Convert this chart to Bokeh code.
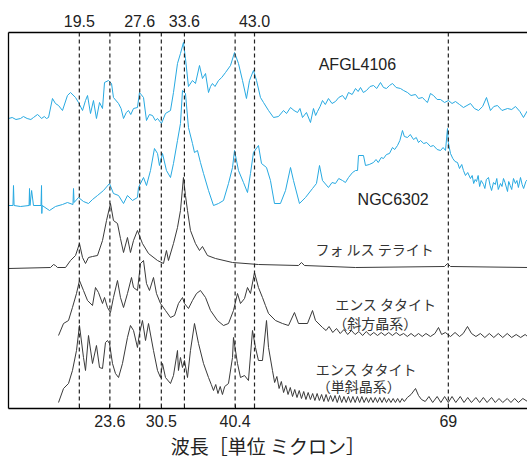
from bokeh.plotting import figure
from bokeh.models import Span, Label, LinearAxis, FixedTicker, Range1d
from bokeh.embed import file_html
from bokeh.resources import INLINE

# ---------------- data (wavelength in micron, relative flux, offset per spectrum) ----------------
afgl_wl = [10.0, 10.5, 11.0, 11.61, 12.0, 12.5, 13.0, 13.35, 13.89, 14.2, 14.43, 14.8, 15.1, 15.37,
           15.9, 16.3, 16.71, 17.24, 17.91, 18.32, 18.99, 19.39,
           19.93, 20.33, 20.6, 21.0, 21.4, 21.8, 22.21, 22.61, 22.88, 23.41, 23.82, 24.08, 24.76, 25.1, 25.43,
           25.8, 26.1, 26.4, 26.77, 27.3, 27.57, 28.11, 28.51, 28.9, 29.32, 29.7, 29.99, 30.52, 31.06, 31.73,
           32.13, 32.67, 33.07, 33.47, 33.74, 34.14, 34.68, 35.08, 35.62, 36.02, 36.43, 36.83, 37.1, 37.36,
           37.7, 38.17, 38.6, 39.11, 39.78, 40.32, 40.85, 41.39, 41.92, 42.33, 42.86, 43.27, 43.8, 44.21,
           44.88, 45.55, 46.22, 46.89, 47.3, 47.83, 48.3, 48.77, 49.1, 49.44, 49.97, 50.51, 50.91, 51.2,
           51.45, 51.8, 52.12, 52.5, 52.92, 53.4, 53.86, 54.3, 54.8, 55.2, 55.61, 56.1, 56.55, 56.9, 57.22,
           57.6, 58.02, 58.5, 58.96, 59.4, 59.9, 60.3, 60.7, 61.1, 61.51, 62.0, 62.58, 63.0, 63.52, 64.0,
           64.6, 65.0, 65.53, 65.9, 66.2, 66.6, 67.01, 67.5, 67.95, 68.5, 69.02, 69.5, 69.96, 70.5, 71.03,
           71.5, 71.97, 72.5, 73.05, 73.6, 74.12, 74.65, 75.1, 75.59, 76.2, 76.94, 77.5, 78.01, 78.6, 79.08,
           79.62]
afgl_flux = [290, 291, 289, 290, 292, 290, 289, 291, 294, 292, 290, 292, 290, 291,
             310, 305, 303, 298, 313, 316, 311, 306,
             298, 308, 313, 295, 308, 290, 306, 300, 326, 328, 325, 311, 305, 300, 290,
             296, 298, 294, 300, 301, 316, 311, 288, 294, 293, 288, 290, 285, 295, 298,
             316, 345, 355, 366, 350, 322, 328, 325, 343, 330, 335, 316, 322, 325,
             322, 328, 331, 336, 343, 356, 345, 328, 310, 328, 338, 328, 311, 306,
             298, 291, 292, 298, 295, 301, 298, 296, 300, 291, 296, 286, 300, 293,
             297, 302, 308, 304, 310, 305, 307, 311, 313, 309, 316, 314, 320, 317, 321,
             316, 318, 322, 323, 320, 326, 321, 320, 323, 325, 321, 320, 318, 316, 313,
             314, 310, 311, 308, 306, 315, 313, 309, 309, 306, 308, 305, 307, 304, 301,
             303, 305, 300, 298, 302, 311, 298, 302, 303, 298, 300, 299, 302, 297, 291,
             298]

ngc_wl = [10.0, 10.6, 10.67, 10.75, 11.61, 12.76, 12.82, 12.88, 13.1, 13.35, 14.36, 14.43, 14.47, 14.52,
          15.5, 16.3, 17.24, 17.91, 18.65, 18.72, 18.8, 19.39, 20.06, 20.73, 21.27, 21.94, 22.74, 23.55,
          24.08, 24.76, 25.43, 25.96, 26.63, 27.3, 27.44, 28.11, 28.51, 29.05, 29.58, 29.99, 30.25, 30.66,
          31.19, 31.73, 32.13, 32.67, 33.07, 33.34, 33.74, 34.14, 34.68, 34.95, 35.35, 35.75, 36.16, 36.83,
          37.5, 38.17, 38.84, 39.51, 40.05, 40.32, 40.85, 41.52, 42.06, 42.46, 42.86, 43.53, 43.94, 44.61,
          45.14, 45.68, 46.48, 47.16, 47.83, 48.23, 49.03, 49.84, 50.78, 51.31, 51.72, 52.12, 52.92, 53.4,
          53.86, 54.3, 54.8, 55.2, 55.61, 56.15, 56.55, 56.82, 56.95, 57.62, 57.89, 58.4, 58.96, 59.3, 59.6,
          60.0, 60.3, 60.7, 61.1, 61.51, 61.8, 62.18, 62.5, 62.85, 63.1, 63.52, 63.9, 64.33, 64.7, 65.0,
          65.27, 65.7, 66.1, 66.61, 67.0, 67.5, 67.95, 68.3, 68.62, 68.89, 69.0, 69.29, 69.6, 69.9, 70.23,
          70.5, 70.8, 71.03, 71.3, 71.6, 71.97, 72.2, 72.4, 72.6, 72.78, 73.0, 73.2, 73.4, 73.72, 73.9, 74.1,
          74.39, 74.6, 74.8, 75.06, 75.3, 75.5, 75.7, 76.0, 76.2, 76.4, 76.6, 76.94, 77.1, 77.3, 77.5, 77.74,
          78.0, 78.2, 78.4, 78.68, 78.9, 79.1, 79.4, 79.62]
ngc_flux = [203, 203, 223, 203, 202, 203, 220, 203, 218, 203, 203, 223, 195, 203,
            198, 202, 204, 206, 204, 220, 206, 211, 207, 205, 209, 213, 218, 225,
            215, 213, 205, 213, 208, 211, 221, 231, 223, 238, 260, 255, 243, 255,
            238, 231, 245, 268, 285, 318, 315, 281, 265, 256, 258, 246, 235, 218,
            203, 205, 208, 225, 241, 258, 238, 226, 216, 235, 256, 263, 245, 241,
            228, 205, 205, 218, 241, 228, 205, 211, 220, 225, 243, 228, 221, 226,
            225, 230, 228, 226, 231, 236, 238, 238, 253, 253, 243, 244, 246, 249, 246,
            251, 250, 254, 255, 261, 259, 263, 268, 278, 272, 271, 274, 269, 271, 266,
            268, 265, 266, 262, 263, 259, 258, 261, 258, 280, 266, 255, 250, 247, 246,
            240, 244, 238, 233, 236, 230, 233, 225, 229, 227, 233, 222, 228, 224, 220, 229,
            231, 223, 218, 226, 224, 230, 219, 225, 222, 230, 226, 217, 227, 223, 219, 230,
            225, 228, 221, 231, 224, 220, 227, 229]

fors_wl = [10.0, 15.63, 16.04, 16.3, 16.57, 17.65, 18.32, 18.99, 19.52, 19.93, 20.33, 20.73, 21.27, 21.94,
           22.61, 23.15, 23.68, 24.08, 24.62, 25.02, 25.43, 25.96, 26.36, 26.77, 27.3, 27.97, 28.78, 29.99,
           30.79, 31.19, 31.46, 32.13, 32.67, 33.07, 33.47, 33.74, 34.01, 34.41, 35.08, 35.62, 36.02, 36.69,
           37.77, 40.05, 43.53, 48.9, 49.3, 49.7, 56.55, 68.49, 68.89, 69.29, 79.62]
fors_flux = [140, 141, 144, 143, 141, 141, 148, 153, 165, 151, 145, 151, 152, 153,
             168, 188, 205, 188, 185, 170, 156, 171, 156, 168, 178, 165, 155, 148,
             145, 158, 148, 165, 181, 198, 231, 213, 198, 178, 165, 158, 162, 153,
             150, 146, 144, 143, 146, 143, 141, 142, 145, 142, 141]

ortho_wl = [16.71, 17.38, 18.05, 18.58, 19.12, 19.52, 20.06, 20.6, 21.27, 21.67, 22.07, 22.61, 22.88, 23.28,
            23.68, 24.08, 24.62, 25.02, 25.43, 25.96, 26.5, 26.77, 27.3, 27.71, 28.11, 28.51, 28.91, 29.45,
            29.85, 30.39, 31.06, 31.73, 32.27, 32.8, 33.34, 33.61, 34.14, 34.68, 35.22, 35.75, 36.43, 37.1,
            38.03, 38.84, 39.51, 40.18, 40.72, 41.12, 41.66, 42.06, 42.46, 43.0, 43.53, 44.07, 44.47, 44.88,
            45.81, 46.75, 47.56, 48.36, 48.9, 50.11, 50.78, 51.18, 52.12, 52.6, 53.0, 53.5, 54.0, 54.5,
            55.0, 55.5, 56.0, 56.5, 57.0, 57.5, 58.0, 58.5, 59.0, 59.5, 60.0, 60.5, 61.0, 61.5,
            62.0, 62.5, 63.0, 63.5, 64.0, 64.5, 65.0, 65.5, 66.0, 66.6, 67.2, 67.68, 68.1, 68.6,
            69.29, 69.9, 70.5, 71.0, 71.57, 72.11, 72.7, 73.3, 73.9, 74.5, 75.1, 75.7, 76.3, 76.9,
            77.5, 78.1, 78.7, 79.3, 79.62]
ortho_flux = [73, 85, 88, 101, 115, 128, 118, 108, 103, 121, 116, 105, 111, 101,
              96, 111, 128, 111, 101, 115, 131, 121, 118, 145, 148, 125, 118, 131,
              115, 105, 98, 91, 93, 105, 111, 105, 100, 108, 115, 118, 111, 98,
              88, 83, 85, 98, 115, 105, 110, 121, 115, 136, 121, 111, 103, 95,
              88, 85, 83, 96, 85, 85, 98, 88, 81, 78, 82, 76, 80, 75,
              79, 74, 78, 74, 77, 73, 77, 73, 76, 73, 76, 73, 76, 73,
              76, 73, 75, 72, 75, 72, 75, 72, 75, 72, 75, 81, 74, 76,
              72, 76, 72, 75, 82, 75, 72, 75, 71, 75, 71, 75, 71, 75,
              71, 74, 71, 74, 72]

mono_wl = [16.71, 17.38, 18.05, 18.58, 19.12, 19.52, 20.06, 20.33, 20.73, 21.27, 21.8, 22.21, 22.61, 23.01,
           23.28, 23.55, 23.95, 24.35, 24.76, 25.29, 25.96, 26.36, 26.77, 27.3, 27.57, 27.97, 28.38, 28.78,
           29.45, 29.99, 30.39, 30.66, 31.06, 31.73, 32.13, 32.67, 32.8, 33.07, 33.34, 33.61, 34.01, 34.41,
           34.95, 35.49, 36.16, 36.83, 37.2, 37.5, 37.8, 38.1, 38.4, 38.7, 39.0, 39.51, 40.05, 40.18,
           40.72, 41.12, 41.66, 42.19, 42.73, 43.13, 43.53, 44.07, 44.61, 44.88, 45.41, 45.7, 46.0, 46.3,
           46.6, 46.9, 47.2, 47.5, 47.8, 48.1, 48.4, 48.7, 49.0, 49.3, 49.6, 49.9, 50.2, 50.5,
           50.8, 51.1, 51.4, 51.7, 52.0, 52.3, 52.6, 52.9, 53.2, 53.5, 53.8, 54.1, 54.4, 54.7,
           55.0, 55.3, 55.6, 55.9, 56.2, 56.5, 56.8, 57.1, 57.4, 57.7, 58.0, 58.3, 58.6, 58.9,
           59.2, 59.5, 59.8, 60.1, 60.4, 60.7, 61.0, 61.3, 61.6, 61.9, 62.2, 62.5, 62.8, 63.1,
           63.5, 64.0, 64.6, 65.0, 65.4, 65.9, 66.4, 66.9, 67.5, 68.0, 68.5, 69.0, 69.5, 70.0,
           70.6, 71.1, 71.6, 72.1, 72.7, 73.2, 73.7, 74.2, 74.8, 75.3, 75.8, 76.3, 76.9, 77.4,
           77.9, 78.4, 79.0, 79.62]
mono_flux = [6, 20, 25, 38, 58, 83, 51, 38, 73, 45, 63, 41, 40, 66,
             68, 65, 45, 35, 31, 45, 71, 83, 78, 61, 75, 88, 68, 85,
             58, 38, 31, 45, 31, 25, 33, 58, 38, 51, 41, 48, 31, 58,
             85, 65, 45, 31, 24, 18, 24, 15, 22, 14, 22, 25, 51, 71,
             45, 31, 33, 28, 78, 61, 48, 48, 88, 61, 38, 26, 32, 20,
             27, 16, 23, 14, 21, 12, 19, 11, 18, 10, 17, 9, 16, 9,
             15, 8, 15, 8, 14, 7, 14, 7, 13, 7, 13, 6, 13, 6,
             12, 6, 12, 6, 12, 6, 12, 6, 12, 6, 11, 6, 11, 6,
             11, 6, 11, 6, 11, 6, 10, 6, 10, 6, 10, 6, 10, 7,
             11, 14, 20, 13, 9, 7, 12, 6, 12, 6, 12, 6, 12, 6,
             12, 6, 11, 6, 11, 6, 11, 6, 11, 6, 10, 6, 10, 6,
             10, 6, 10, 7]

feature_wl = [19.5, 23.6, 27.6, 30.5, 33.6, 40.4, 43.0, 69.0]
top_labels = {19.5: "19.5", 27.6: "27.6", 33.6: "33.6", 43.0: "43.0"}
bottom_labels = {19.5: "", 23.6: "23.6", 27.6: "", 30.5: "30.5", 33.6: "", 40.4: "40.4", 43.0: "", 69.0: "69"}

series_names = ["AFGL4106", "NGC6302"]
mineral_names = ["フォ ルス テライト", "エンス タタイト", "（斜方晶系）", "エンス タタイト", "（単斜晶系）"]
x_title = "波長［単位 ミクロン］"

BLUE = "#27a9e1"
DARK = "#3a3a3a"
LATIN = "Liberation Sans"
CJK = "Noto Sans CJK JP"

p = figure(width=527, height=461, output_backend="svg", toolbar_location=None,
           x_range=Range1d(10, 79.62), y_range=Range1d(0, 376),
           x_axis_location=None, y_axis_location=None,
           min_border_left=8, min_border_right=0, min_border_top=32, min_border_bottom=53)
p.outline_line_color = None
p.xgrid.visible = False
p.ygrid.visible = False
p.background_fill_color = "white"
p.border_fill_color = "white"

# left frame line
left = LinearAxis(ticker=FixedTicker(ticks=[]), axis_line_color="black", axis_line_width=1.3,
                  major_tick_line_color=None, minor_tick_line_color=None)
p.add_layout(left, "left")

# bottom axis
bottom = LinearAxis(ticker=FixedTicker(ticks=feature_wl), major_label_overrides=bottom_labels,
                    axis_label=x_title)
bottom.axis_line_color = "black"
bottom.axis_line_width = 1.3
bottom.major_tick_in = 4
bottom.major_tick_out = 0
bottom.major_tick_line_color = "black"
bottom.minor_tick_line_color = None
bottom.major_label_standoff = 6
bottom.major_label_text_font = LATIN
bottom.major_label_text_font_size = "16px"
bottom.major_label_text_color = "#222222"
bottom.axis_label_standoff = 2
bottom.axis_label_text_font = CJK
bottom.axis_label_text_font_style = "normal"
bottom.axis_label_text_font_size = "19px"
bottom.axis_label_text_color = "#222222"
p.add_layout(bottom, "below")

# top axis
top = LinearAxis(ticker=FixedTicker(ticks=list(top_labels.keys())), major_label_overrides=top_labels)
top.axis_line_color = "black"
top.axis_line_width = 1.3
top.major_tick_in = 0
top.major_tick_out = 0
top.major_tick_line_color = None
top.minor_tick_line_color = None
top.major_label_standoff = 6
top.major_label_text_font = LATIN
top.major_label_text_font_size = "16px"
top.major_label_text_color = "#222222"
p.add_layout(top, "above")

# dashed feature lines
for w in feature_wl:
    p.add_layout(Span(location=w, dimension="height", line_color="#222222",
                      line_width=1.2, line_dash="4 3"))

p.line(afgl_wl, afgl_flux, line_color=BLUE, line_width=1)
p.line(ngc_wl, ngc_flux, line_color=BLUE, line_width=1)
p.line(fors_wl, fors_flux, line_color=DARK, line_width=1)
p.line(ortho_wl, ortho_flux, line_color=DARK, line_width=1)
p.line(mono_wl, mono_flux, line_color=DARK, line_width=1)

def lab(x, y, t, font, size, color="#222222"):
    p.add_layout(Label(x=x, y=y, text=t, text_font=font, text_font_size=size,
                       text_color=color, text_align="center", text_baseline="middle"))

lab(56.8, 344, series_names[0], LATIN, "16px")
lab(61.6, 209, series_names[1], LATIN, "16px")
lab(59.1, 160, mineral_names[0], CJK, "14px", "#333333")
lab(60.6, 105, mineral_names[1], CJK, "14px", "#333333")
lab(59.2, 86, mineral_names[2], CJK, "14px", "#333333")
lab(58.0, 40, mineral_names[3], CJK, "14px", "#333333")
lab(57.0, 23, mineral_names[4], CJK, "14px", "#333333")

open("out.html", "w").write(file_html(p, INLINE))
